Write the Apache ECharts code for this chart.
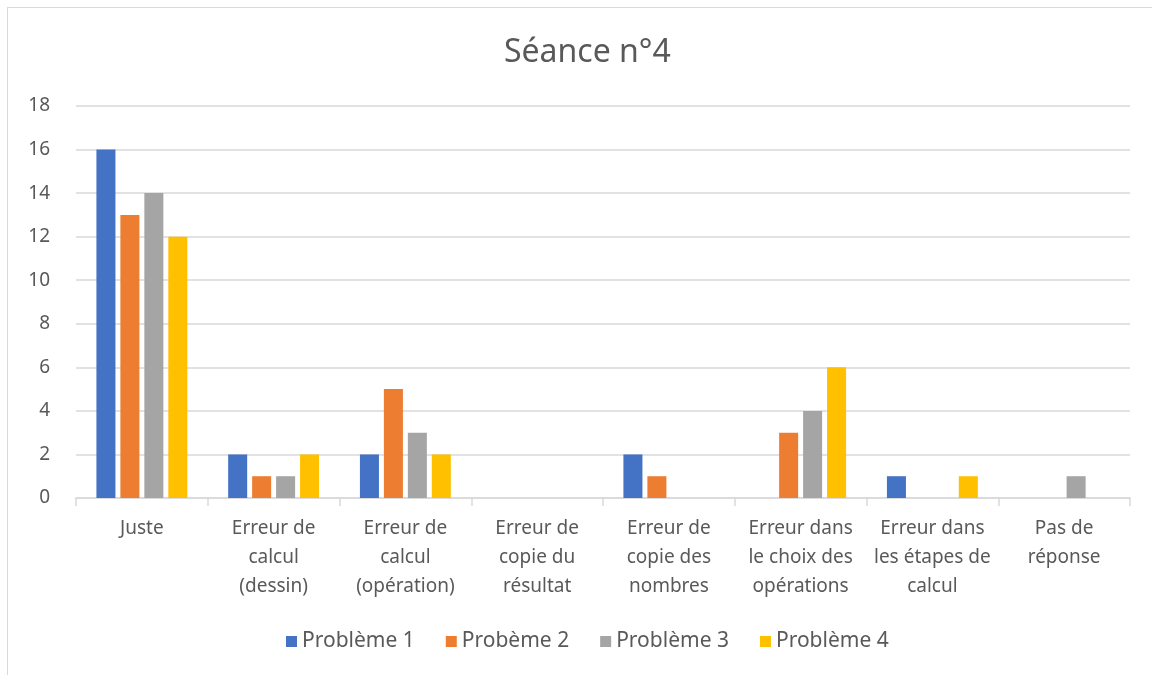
<!DOCTYPE html>
<html>
<head>
<meta charset="utf-8">
<script src="https://cdn.jsdelivr.net/npm/echarts@6/dist/echarts.min.js"></script>
<style>
  html, body { margin: 0; padding: 0; background: #fff; }
  #wrap { position: absolute; left: 7px; top: 7px; width: 1160px; height: 680px; border: 1px solid #d9d9d9; box-sizing: border-box; }
  #chart { position: absolute; left: 0; top: 0; width: 1152px; height: 675px; }
</style>
</head>
<body>
<div id="wrap"></div>
<div id="chart"></div>
<script>
// catégories (retours à la ligne comme dans l'original)
var categories = [
    'Juste',
    'Erreur de\ncalcul\n(dessin)',
    'Erreur de\ncalcul\n(opération)',
    'Erreur de\ncopie du\nrésultat',
    'Erreur de\ncopie des\nnombres',
    'Erreur dans\nle choix des\nopérations',
    'Erreur dans\nles étapes de\ncalcul',
    'Pas de\nréponse'
];
var seriesNames = ['Problème 1', 'Probème 2', 'Problème 3', 'Problème 4'];
var probleme1 = [16, 2, 2, 0, 2, 0, 1, 0];
var probleme2 = [13, 1, 5, 0, 1, 3, 0, 0];
var probleme3 = [14, 1, 3, 0, 0, 4, 0, 1];
var probleme4 = [12, 2, 2, 0, 0, 6, 1, 0];
var colors = ['#4472c4', '#ed7d31', '#a5a5a5', '#ffc000'];

var chart = echarts.init(document.getElementById('chart'));
var font = 'Noto Sans, Open Sans, sans-serif';
var txt = '#595959';

var allData = [probleme1, probleme2, probleme3, probleme4];
var series = allData.map(function (d, i) {
    return {
        name: seriesNames[i],
        type: 'bar',
        data: d,
        barGap: '26%',
        barCategoryGap: '31%',
        itemStyle: { color: colors[i] }
    };
});

var option = {
    animation: false,
    color: colors,
    title: {
        text: 'Séance n°4',
        left: 499,
        top: 32,
        textStyle: { fontFamily: font, fontSize: 32, fontWeight: 'normal', color: txt }
    },
    legend: {
        data: seriesNames,
        bottom: 18,
        left: 281,
        icon: 'rect',
        itemWidth: 11,
        itemHeight: 11,
        itemGap: 31,
        textStyle: { fontFamily: font, fontSize: 21, color: txt }
    },
    grid: { left: 76, right: 22, top: 106, bottom: 177, containLabel: false },
    xAxis: {
        type: 'category',
        data: categories,
        axisLine: { lineStyle: { color: '#d9d9d9', width: 1.5 } },
        axisTick: { show: true, length: 8, lineStyle: { color: '#d9d9d9', width: 1.5 } },
        axisLabel: { fontFamily: font, fontSize: 19, color: txt, lineHeight: 29, margin: 16, interval: 0 }
    },
    yAxis: {
        type: 'value',
        min: 0,
        max: 18,
        interval: 2,
        axisLine: { show: false },
        axisTick: { show: false },
        splitLine: { lineStyle: { color: '#d9d9d9', width: 1.5 } },
        axisLabel: { fontFamily: font, fontSize: 19, color: txt, margin: 26 }
    },
    series: series
};

chart.setOption(option);
</script>
</body>
</html>
